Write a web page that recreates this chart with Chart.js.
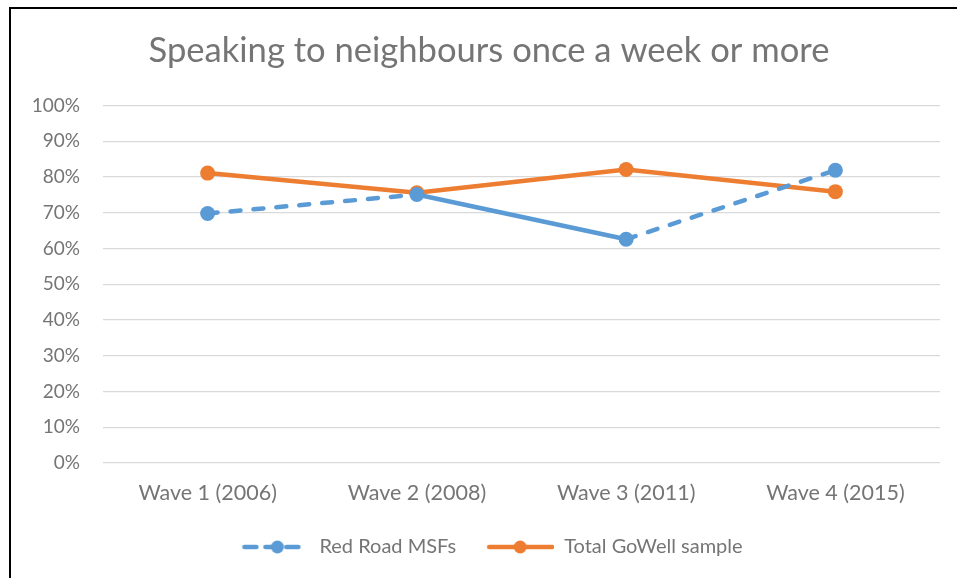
<!DOCTYPE html>
<html>
<head>
<meta charset="utf-8">
<script src="https://cdn.jsdelivr.net/npm/chart.js@4.4.1/dist/chart.umd.min.js"></script>
<style>
  html, body { margin: 0; padding: 0; background: #fff; }
  #wrap { position: relative; width: 957px; height: 578px; }
  #frame { position: absolute; left: 9px; top: 7px; right: 0; bottom: 0;
           border-left: 2px solid #000; border-top: 2px solid #000; pointer-events: none; }
  canvas { position: absolute; left: 0; top: 0; }
</style>
</head>
<body>
<div id="wrap">
  <canvas id="chart" width="957" height="578"></canvas>
  <div id="frame"></div>
</div>
<script>
const titleText = "Speaking to neighbours once a week or more";
const waves = ["Wave 1 (2006)", "Wave 2 (2008)", "Wave 3 (2011)", "Wave 4 (2015)"];
const redRoad = [69.8, 75.1, 62.6, 81.9];
const goWell = [81.1, 75.6, 82.1, 75.9];
const seriesNames = ["Red Road MSFs", "Total GoWell sample"];

const BLUE = "#5B9BD5";
const ORANGE = "#ED7D31";
const TEXT = "#757575";
const FONT = "Lato, 'Open Sans', sans-serif";

// small legend swatches: line + dot, like the office legend
function swatch(color, dashed) {
    let c = document.createElement("canvas");
    c.width = 68; c.height = 16;
    let g = c.getContext("2d");
    g.strokeStyle = color;
    g.fillStyle = color;
    g.lineWidth = 4.5;
    g.lineCap = "round";
    if (dashed) g.setLineDash([12, 9]);
    g.beginPath();
    g.moveTo(3, 8);
    g.lineTo(dashed ? 64 : 66, 8);
    g.stroke();
    g.beginPath();
    g.arc(dashed ? 36 : 34, 8, 6.5, 0, Math.PI * 2);
    g.fill();
    return c;
}
const swatches = [swatch(BLUE, true), swatch(ORANGE, false)];

// the office title and legend sit a bit right of the canvas centre
const boxShift = {
    id: "boxShift",
    afterLayout(chart) {
        if (chart.legend) {
            chart.legend.left += 22;
            chart.legend.right += 22;
        }
        if (chart.titleBlock) {
            chart.titleBlock.left += 19;
            chart.titleBlock.right += 19;
        }
    }
};

new Chart(document.getElementById("chart"), {
    type: "line",
    data: {
        labels: waves,
        datasets: [
            {
                label: seriesNames[0],
                data: redRoad,
                borderColor: BLUE,
                backgroundColor: BLUE,
                borderWidth: 4.5,
                borderCapStyle: "round",
                pointRadius: 7.5,
                pointHoverRadius: 7.5,
                pointBorderWidth: 0,
                segment: {
                    borderDash: ctx => ctx.p0DataIndex === 1 ? [] : [10, 13]
                }
            },
            {
                label: seriesNames[1],
                data: goWell,
                borderColor: ORANGE,
                backgroundColor: ORANGE,
                borderWidth: 4.5,
                pointRadius: 7.5,
                pointHoverRadius: 7.5,
                pointBorderWidth: 0
            }
        ]
    },
    plugins: [boxShift],
    options: {
        responsive: false,
        animation: false,
        layout: { padding: { left: 0, right: 17, top: 0, bottom: 11 } },
        plugins: {
            title: {
                display: true,
                text: titleText,
                color: TEXT,
                font: { family: FONT, size: 34.6, weight: "normal" },
                padding: { top: 30, bottom: 34 }
            },
            legend: {
                position: "bottom",
                labels: {
                    color: TEXT,
                    font: { family: FONT, size: 20 },
                    usePointStyle: true,
                    pointStyleWidth: 68,
                    boxHeight: 16,
                    padding: 30,
                    generateLabels: chart => {
                        let items = Chart.defaults.plugins.legend.labels.generateLabels(chart);
                        items.forEach((it, i) => { it.pointStyle = swatches[i]; });
                        return items;
                    }
                }
            },
            tooltip: { enabled: false }
        },
        scales: {
            x: {
                offset: true,
                grid: { display: false, drawTicks: false },
                border: { display: false },
                ticks: { color: TEXT, font: { family: FONT, size: 21.5 }, padding: 17 },
                afterFit: s => { s.height = 44; }
            },
            y: {
                min: 0,
                max: 100,
                ticks: {
                    stepSize: 10,
                    color: TEXT,
                    font: { family: FONT, size: 19 },
                    padding: 23,
                    callback: v => v + "%"
                },
                grid: { color: "#D9D9D9", lineWidth: 1.3, drawTicks: false },
                border: { display: false },
                afterFit: s => { s.width = 103; }
            }
        }
    }
});
</script>
</body>
</html>
